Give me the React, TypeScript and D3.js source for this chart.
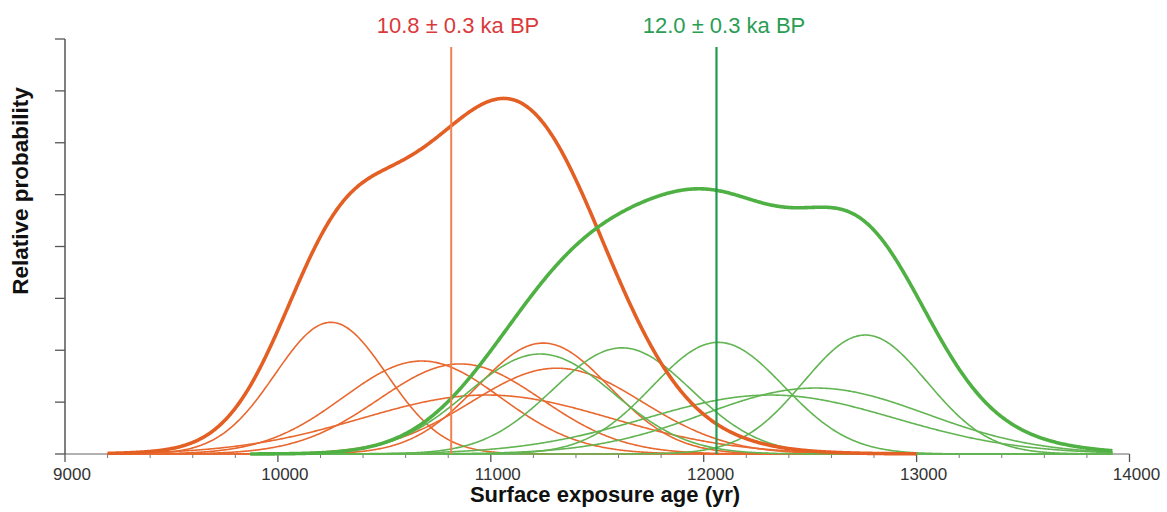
import React from 'react';
import * as d3 from 'd3';

// exposure ages (yr) and 1-sigma uncertainties
const orangeAges = [10249, 10676, 10856, 10980, 11246, 11310];
const orangeErrors = [262, 371, 383, 585, 311, 402];
const greenAges = [11232, 11616, 12068, 12759, 12313, 12524];
const greenErrors = [345, 325, 309, 290, 585, 523];

const orangeRange = [9200, 13000];
const greenRange = [9870, 13920];

const xTicks = [9000, 10000, 11000, 12000, 13000, 14000];
const yTicks = [0, 1, 2, 3, 4, 5, 6, 7, 8];

const orangeMean = 10814;
const greenMean = 12060;
const orangeLabel = '10.8 ± 0.3 ka BP';
const greenLabel = '12.0 ± 0.3 ka BP';

const AREA = 665; // common probability mass per sample (plot units)

const W = 1167;
const H = 512;
const margin = { left: 65, right: 1129.5, top: 39, bottom: 454 };

const pdf = (mu: number, sd: number) => (t: number) =>
    (AREA / sd) * Math.exp(-0.5 * ((t - mu) / sd) ** 2);

const samples = (range: number[]) => d3.range(range[0], range[1] + 1, 5);

export default function App() {
    const x = d3.scaleLinear().domain([9000, 14000]).range([margin.left, margin.right]);
    const y = d3.scaleLinear().domain([0, 8]).range([margin.bottom, margin.top]);

    const line = d3.line<[number, number]>()
        .x(d => x(d[0]))
        .y(d => y(d[1]))
        .curve(d3.curveLinear);

    const makeGroup = (ages: number[], errs: number[], range: number[]) => {
        const ts = samples(range);
        const fns = ages.map((a, i) => pdf(a, errs[i]));
        const singles = fns.map(f => line(ts.map(t => [t, f(t)] as [number, number])));
        const sum = line(ts.map(t => [t, d3.sum(fns, f => f(t))] as [number, number]));
        return { singles, sum };
    };

    const orange = makeGroup(orangeAges, orangeErrors, orangeRange);
    const green = makeGroup(greenAges, greenErrors, greenRange);

    const minorTicks = d3.range(9000, 14001, 200).filter(t => t % 1000 !== 0);

    return (
        <svg width={W} height={H} style={{ position: 'absolute', left: 0, top: 0, background: '#fff' }}
            fontFamily="Liberation Sans, Arial, sans-serif">
            {/* x axis */}
            <line x1={x(9000)} x2={x(14000)} y1={y(0)} y2={y(0)} stroke="#999" strokeWidth={1.5} />
            {xTicks.map(t => (
                <g key={t}>
                    <line x1={x(t)} x2={x(t)} y1={y(0)} y2={y(0) + 8} stroke="#555" strokeWidth={1.3} />
                    <text x={x(t) + 7} y={480} textAnchor="middle" fontSize={17} fill="#333">{t}</text>
                </g>
            ))}
            {minorTicks.map(t => (
                <line key={t} x1={x(t)} x2={x(t)} y1={y(0)} y2={y(0) + 4} stroke="#777" strokeWidth={1} />
            ))}
            {/* y axis */}
            <line x1={margin.left} x2={margin.left} y1={y(8)} y2={y(0)} stroke="#555" strokeWidth={1.5} />
            {yTicks.map(t => (
                <line key={t} x1={margin.left - 10} x2={margin.left} y1={y(t)} y2={y(t)} stroke="#555" strokeWidth={1.3} />
            ))}

            {/* individual sample curves */}
            {orange.singles.map((d, i) => (
                <path key={'o' + i} d={d || ''} fill="none" stroke="#e8682f" strokeWidth={1.6} />
            ))}
            {green.singles.map((d, i) => (
                <path key={'g' + i} d={d || ''} fill="none" stroke="#62b552" strokeWidth={1.6} />
            ))}

            {/* summed curves */}
            <path d={orange.sum || ''} fill="none" stroke="#e35f24" strokeWidth={3.6} />
            <path d={green.sum || ''} fill="none" stroke="#4fb043" strokeWidth={3.6} />

            {/* means */}
            <line x1={x(orangeMean)} x2={x(orangeMean)} y1={47} y2={y(0)} stroke="#ef8250" strokeWidth={2} />
            <line x1={x(greenMean)} x2={x(greenMean)} y1={47} y2={y(0)} stroke="#1f9a4e" strokeWidth={2.2} />
            <text x={458} y={33} textAnchor="middle" fontSize={22} fill="#d93a3c">{orangeLabel}</text>
            <text x={724} y={33} textAnchor="middle" fontSize={22} fill="#2a9d55">{greenLabel}</text>

            {/* axis titles */}
            <text x={605} y={502} textAnchor="middle" fontSize={22} fontWeight="bold" fill="#111">
                Surface exposure age (yr)
            </text>
            <text transform="translate(28,191) rotate(-90)" textAnchor="middle" fontSize={22.5} fontWeight="bold" fill="#111">
                Relative probability
            </text>
        </svg>
    );
}
